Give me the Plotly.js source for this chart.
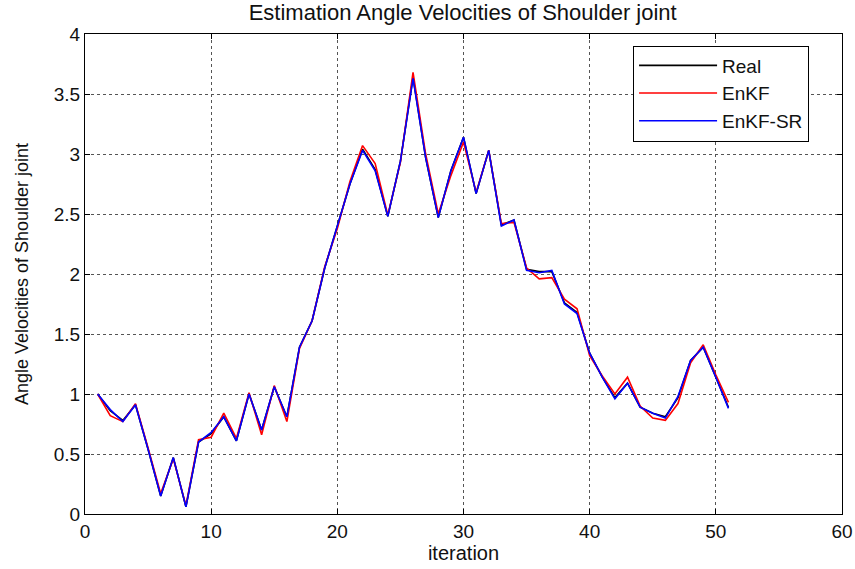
<!DOCTYPE html>
<html>
<head>
<meta charset="utf-8">
<script src="https://cdn.plot.ly/plotly-3.0.1.min.js"></script>
<style>
html,body{margin:0;padding:0;background:#fff;}
#chart{width:855px;height:569px;}
</style>
</head>
<body>
<div id="chart"></div>
<script>
const iterations = [1,2,3,4,5,6,7,8,9,10,11,12,13,14,15,16,17,18,19,20,21,22,23,24,25,26,27,28,29,30,31,32,33,34,35,36,37,38,39,40,41,42,43,44,45,46,47,48,49,50,51];

const realValues = [1.00,0.86,0.78,0.91,0.54,0.15,0.47,0.06,0.60,0.67,0.81,0.61,1.00,0.70,1.06,0.81,1.39,1.61,2.05,2.39,2.75,3.04,2.87,2.48,2.94,3.64,2.97,2.47,2.86,3.14,2.67,3.03,2.41,2.45,2.04,2.02,2.02,1.76,1.68,1.34,1.14,0.97,1.09,0.89,0.84,0.81,0.97,1.28,1.39,1.14,0.89];

const enkfValues = [1.00,0.82,0.77,0.92,0.55,0.17,0.46,0.07,0.62,0.64,0.84,0.63,1.01,0.66,1.07,0.77,1.38,1.61,2.06,2.38,2.77,3.07,2.92,2.49,2.93,3.68,3.00,2.50,2.82,3.10,2.68,3.03,2.42,2.43,2.05,1.96,1.97,1.79,1.71,1.32,1.15,1.00,1.14,0.90,0.80,0.78,0.92,1.26,1.41,1.16,0.93];

const enkfSrValues = [1.00,0.87,0.77,0.91,0.54,0.15,0.47,0.06,0.60,0.68,0.81,0.61,1.00,0.70,1.06,0.81,1.39,1.61,2.05,2.40,2.75,3.03,2.86,2.48,2.94,3.63,2.97,2.47,2.86,3.14,2.67,3.03,2.40,2.45,2.03,2.01,2.03,1.75,1.67,1.34,1.14,0.96,1.09,0.89,0.84,0.80,0.98,1.28,1.39,1.14,0.88];

const seriesNames = ["Real","EnKF","EnKF-SR"];
const seriesColors = ["#000000","#ff0000","#0000ff"];

const titleText = "Estimation Angle Velocities of Shoulder joint";
const xTitle = "iteration";
const yTitle = "Angle Velocities of Shoulder joint";

const FONT = "Liberation Sans, Arial, Helvetica, sans-serif";

const traces = [realValues, enkfValues, enkfSrValues].map((vals, i) => ({
  x: iterations,
  y: vals,
  type: "scatter",
  mode: "lines",
  name: seriesNames[i],
  line: {color: seriesColors[i], width: 1.6}
}));

const axisCommon = {
  showline: true,
  linecolor: "#000",
  linewidth: 1,
  mirror: "ticks",
  ticks: "inside",
  ticklen: 5,
  tickcolor: "#000",
  showgrid: true,
  gridcolor: "#555",
  griddash: "dot",
  gridwidth: 1,
  zeroline: false,
  tickfont: {family: FONT, size: 19, color: "#111"}
};

const layout = {
  width: 855,
  height: 569,
  margin: {l: 85, r: 13, t: 34, b: 55},
  paper_bgcolor: "#fff",
  plot_bgcolor: "#fff",
  title: {
    text: titleText,
    font: {family: FONT, size: 22, color: "#111"},
    x: 0.5412, xanchor: "center",
    y: 0.978, yanchor: "middle"
  },
  xaxis: Object.assign({}, axisCommon, {
    range: [0, 60],
    dtick: 10,
    tick0: 0,
    title: {text: xTitle, font: {family: FONT, size: 20, color: "#111"}, standoff: 3}
  }),
  yaxis: Object.assign({}, axisCommon, {
    range: [0, 4],
    dtick: 0.5,
    tick0: 0,
    title: {text: yTitle, font: {family: FONT, size: 18, color: "#111"}, standoff: 20}
  }),
  legend: {
    x: 0.724, xanchor: "left",
    y: 0.976, yanchor: "top",
    bgcolor: "#fff",
    bordercolor: "#000",
    borderwidth: 1,
    itemwidth: 78,
    font: {family: FONT, size: 19, color: "#111"},
    tracegroupgap: 0
  },
  showlegend: true
};

Plotly.newPlot("chart", traces, layout, {displayModeBar: false, staticPlot: true});
</script>
</body>
</html>
